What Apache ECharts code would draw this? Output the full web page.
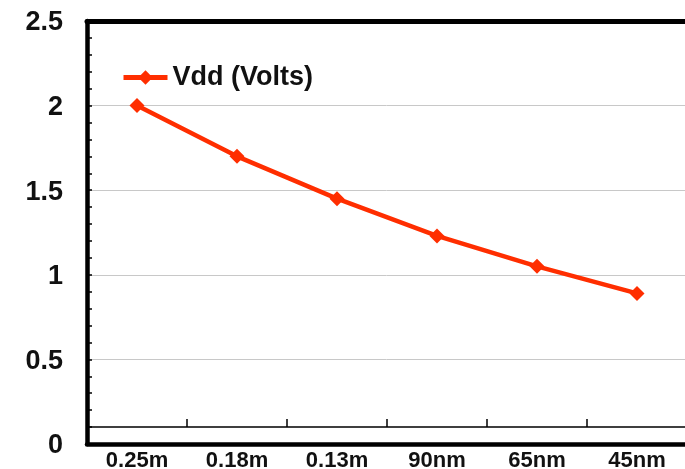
<!DOCTYPE html>
<html>
<head>
<meta charset="utf-8">
<script src="https://cdn.jsdelivr.net/npm/echarts@6/dist/echarts.min.js"></script>
<style>
  html, body { margin: 0; padding: 0; background: #fff; }
  #chart { width: 685px; height: 469px; }
</style>
</head>
<body>
<div id="chart"></div>
<script>
// Process nodes and supply voltage
const nodes = ['0.25m', '0.18m', '0.13m', '90nm', '65nm', '45nm'];
const vdd = [2.0, 1.7, 1.45, 1.23, 1.05, 0.89];
const seriesName = 'Vdd (Volts)';

const FONT = "'Liberation Sans', Arial, sans-serif";
const RED = '#ff2e00';

const chart = echarts.init(document.getElementById('chart'));
chart.setOption({
  backgroundColor: '#ffffff',
  animation: false,
  grid: [
    { left: 87, right: -2, top: 21, bottom: 25, outerBoundsMode: 'none' },
    // category reference line with its boundary ticks, sitting at 0.1
    { left: 87, right: -2, top: 21, bottom: 42, outerBoundsMode: 'none' }
  ],
  legend: {
    left: 121, top: 64, padding: 0,
    itemWidth: 44, itemHeight: 18,
    lineStyle: { width: 5 },
    textStyle: { fontFamily: FONT, fontWeight: 'bold', fontSize: 27, color: '#111' },
    data: [seriesName]
  },
  xAxis: [
    {
      type: 'category', gridIndex: 0, data: nodes,
      axisLine: { show: true, lineStyle: { color: '#000', width: 4.5 } },
      axisTick: { show: false },
      axisLabel: { margin: 6, fontFamily: FONT, fontWeight: 'bold', fontSize: 22, color: '#111' },
      splitLine: { show: false }
    },
    {
      // heavy frame along the top of the plot
      type: 'category', gridIndex: 0, data: nodes, position: 'top',
      axisLine: { show: true, lineStyle: { color: '#000', width: 5 } },
      axisTick: { show: false }, axisLabel: { show: false }, splitLine: { show: false }
    },
    {
      type: 'category', gridIndex: 1, data: nodes, position: 'bottom',
      axisLine: { show: true, onZero: false, lineStyle: { color: '#000', width: 1.5 } },
      axisTick: { show: true, inside: true, length: 8, lineStyle: { color: '#000', width: 1.5 } },
      axisLabel: { show: false },
      splitLine: { show: false }
    }
  ],
  yAxis: [
    {
      type: 'value', gridIndex: 0, min: 0, max: 2.5, interval: 0.5,
      axisLine: { show: true, lineStyle: { color: '#000', width: 4.5 } },
      axisTick: { show: true, inside: true, length: 5, lineStyle: { color: '#000', width: 1.5 } },
      minorTick: { show: true, splitNumber: 5, length: 5, lineStyle: { color: '#000', width: 1.5 } },
      axisLabel: {
        margin: 24, verticalAlign: 'top', lineHeight: 4,
        fontFamily: FONT, fontWeight: 'bold', fontSize: 27, color: '#111',
        formatter: v => String(v)
      },
      splitLine: { show: true, showMinLine: false, showMaxLine: false, lineStyle: { color: '#c8c8c8', width: 1 } }
    },
    {
      type: 'value', gridIndex: 1, min: 0.1, max: 2.5, show: false,
      splitLine: { show: false }
    }
  ],
  series: [
    {
      name: seriesName, type: 'line', xAxisIndex: 0, yAxisIndex: 0,
      data: vdd,
      symbol: 'diamond', symbolSize: 15,
      lineStyle: { color: RED, width: 4.5 },
      itemStyle: { color: RED },
      z: 5
    }
  ]
});
</script>
</body>
</html>
